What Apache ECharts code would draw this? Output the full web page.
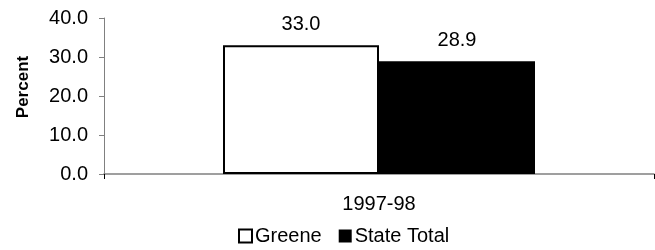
<!DOCTYPE html>
<html lang="en">
<head>
    <meta charset="UTF-8">
    <title>Percent 1997-98</title>
    <script src="https://cdn.jsdelivr.net/npm/echarts@6/dist/echarts.min.js"></script>
    <style>
        html, body { margin: 0; padding: 0; background: #fff; }
    </style>
</head>
<body>
    <div id="main" style="width: 655px;height:250px;"></div>
    <script type="text/javascript">
        // chart data
        var categories = ['1997-98'];
        var greene = [33.0];
        var stateTotal = [28.9];
        var yTicks = [0, 10, 20, 30, 40];

        var font = 'Arial, "Liberation Sans", sans-serif';
        var myChart = echarts.init(document.getElementById('main'));

        var option = {
            animation: false,
            grid: { left: 104, right: 1, top: 18, bottom: 76 },
            legend: {
                bottom: 4,
                left: 238,
                padding: 0,
                itemWidth: 13,
                itemHeight: 13,
                itemGap: 17,
                textStyle: { fontFamily: font, fontSize: 20, color: '#000', padding: [0, 0, 0, -2] },
                data: [
                    { name: 'Greene', icon: 'rect', itemStyle: { color: '#fff', borderColor: '#000', borderWidth: 2 } },
                    { name: 'State Total', icon: 'rect', itemStyle: { color: '#000' } }
                ]
            },
            xAxis: {
                type: 'category',
                data: categories,
                axisLine: { lineStyle: { color: '#808080', width: 1.5 } },
                axisTick: { show: true, length: 5, lineStyle: { color: '#000' } },
                axisLabel: { fontFamily: font, fontSize: 20, color: '#000', margin: 20 }
            },
            yAxis: {
                type: 'value',
                min: yTicks[0],
                max: yTicks[yTicks.length - 1],
                interval: 10,
                name: 'Percent',
                nameLocation: 'middle',
                nameGap: 72,
                nameTextStyle: {
                    fontFamily: font, fontSize: 17, fontWeight: 'bold', color: '#000',
                    padding: [0, 0, 0, 18]
                },
                axisLine: { show: true, lineStyle: { color: '#808080' } },
                axisTick: { show: true, length: 5, lineStyle: { color: '#808080' } },
                splitLine: { show: false },
                axisLabel: {
                    fontFamily: font, fontSize: 20, color: '#000', margin: 16,
                    formatter: function (v) { return v.toFixed(1); }
                }
            },
            series: [{
                name: 'Greene',
                type: 'bar',
                data: greene,
                barWidth: 156,
                barGap: '0%',
                itemStyle: { color: '#fff', borderColor: '#000', borderWidth: 2 },
                label: {
                    show: true, position: 'top', distance: 11,
                    fontFamily: font, fontSize: 20, color: '#000',
                    formatter: function (p) { return p.value.toFixed(1); }
                }
            }, {
                name: 'State Total',
                type: 'bar',
                data: stateTotal,
                barWidth: 156,
                itemStyle: { color: '#000' },
                label: {
                    show: true, position: 'top', distance: 11,
                    fontFamily: font, fontSize: 20, color: '#000',
                    formatter: function (p) { return p.value.toFixed(1); }
                }
            }]
        };
        myChart.setOption(option);
    </script>
</body>
</html>
